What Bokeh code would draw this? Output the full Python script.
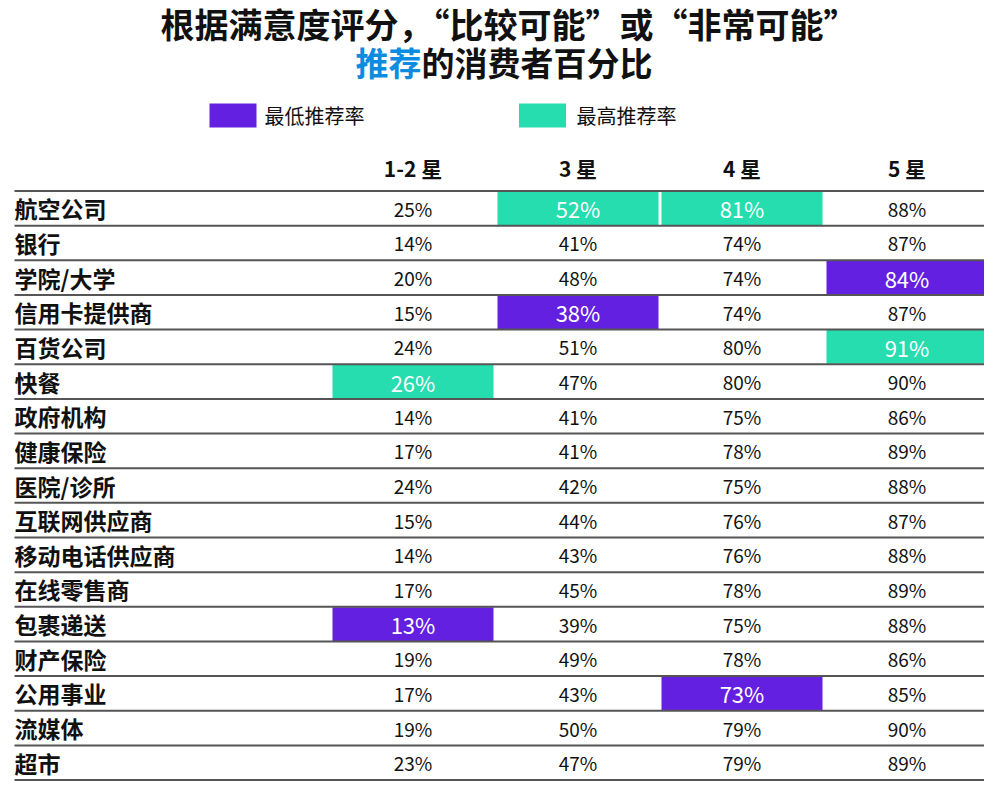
from bokeh.plotting import figure
from bokeh.models import Range1d
from bokeh.core.properties import value
from bokeh.embed import file_html
from bokeh.resources import INLINE

# ---- data ----
categories = ["航空公司", "银行", "学院/大学", "信用卡提供商", "百货公司", "快餐", "政府机构",
              "健康保险", "医院/诊所", "互联网供应商", "移动电话供应商", "在线零售商", "包裹递送",
              "财产保险", "公用事业", "流媒体", "超市"]
columns = ["1-2 星", "3 星", "4 星", "5 星"]
star_1_2 = [25, 14, 20, 15, 24, 26, 14, 17, 24, 15, 14, 17, 13, 19, 17, 19, 23]
star_3 = [52, 41, 48, 38, 51, 47, 41, 41, 42, 44, 43, 45, 39, 49, 43, 50, 47]
star_4 = [81, 74, 74, 74, 80, 80, 75, 78, 75, 76, 76, 78, 75, 78, 73, 79, 79]
star_5 = [88, 87, 84, 87, 91, 90, 86, 89, 88, 87, 88, 89, 88, 86, 85, 90, 89]
legend_labels = ["最低推荐率", "最高推荐率"]
title_line1 = "根据满意度评分，“比较可能”或“非常可能”"
title_line2_blue = "推荐"
title_line2_rest = "的消费者百分比"

series = [star_1_2, star_3, star_4, star_5]

# ---- style / layout ----
PURPLE = "#6420E0"
TEAL = "#25DDAE"
BLUE = "#0B8CE0"
LINE = "#555555"
CJK = value("Noto Sans CJK SC")

TOP = 190.5
ROW_H = 34.65
COL_X = [412.5, 577.5, 741.5, 906.5]
CELL_W = 161
n = len(categories)

p = figure(width=984, height=784, output_backend="svg", toolbar_location=None,
           x_range=Range1d(0, 984), y_range=Range1d(784, 0), min_border=0)
p.axis.visible = False
p.grid.visible = False
p.outline_line_color = None
p.background_fill_color = "white"

row_y = [TOP + ROW_H * (i + 0.5) for i in range(n)]

# highlighted cells (min / max per column)
hx, hy, hc, ht = [], [], [], []
nx, ny, nt = [], [], []
for j, vals in enumerate(series):
    lo, hi = min(vals), max(vals)
    for i, v in enumerate(vals):
        if v == lo or v == hi:
            hx.append(COL_X[j]); hy.append(row_y[i])
            hc.append(PURPLE if v == lo else TEAL)
            ht.append(f"{v}%")
        else:
            nx.append(COL_X[j]); ny.append(row_y[i]); nt.append(f"{v}%")

p.rect(x=hx, y=hy, width=CELL_W, height=ROW_H - 1, fill_color=hc, line_color=None)

# row lines
for k in range(n + 1):
    yk = TOP + ROW_H * k
    p.segment(x0=[14], y0=[yk], x1=[989], y1=[yk], line_color=LINE, line_width=2)

# values
p.text(x=nx, y=ny, text=nt, text_font=CJK, text_font_size="19px", text_color="#111111",
       text_align="center", text_baseline="middle")
p.text(x=hx, y=hy, text=ht, text_font=CJK, text_font_size="22px", text_color="white",
       text_align="center", text_baseline="middle")

# row labels
p.text(x=[14] * n, y=row_y, text=categories, text_font=CJK, text_font_size="23px",
       text_font_style="bold", text_color="#111111", text_align="left", text_baseline="middle")

# column headers
p.text(x=COL_X, y=[167] * 4, text=columns, text_font=CJK, text_font_size="21px",
       text_font_style="bold", text_color="#111111", text_align="center", text_baseline="middle")

# legend
p.rect(x=[232.5, 542], y=[115, 115], width=47, height=24, fill_color=[PURPLE, TEAL], line_color=None)
p.text(x=[264, 576], y=[115, 115], text=legend_labels, text_font=CJK, text_font_size="20px",
       text_color="#111111", text_align="left", text_baseline="middle")

# title
p.text(x=[517], y=[23], text=[title_line1], text_font=CJK, text_font_size="34px",
       text_font_style="bold", text_color="#111111", text_align="center", text_baseline="middle")
p.text(x=[421], y=[61], text=[title_line2_blue], text_font=CJK, text_font_size="33px",
       text_font_style="bold", text_color=BLUE, text_align="right", text_baseline="middle")
p.text(x=[421], y=[61], text=[title_line2_rest], text_font=CJK, text_font_size="33px",
       text_font_style="bold", text_color="#111111", text_align="left", text_baseline="middle")

open("out.html", "w").write(file_html(p, INLINE))
